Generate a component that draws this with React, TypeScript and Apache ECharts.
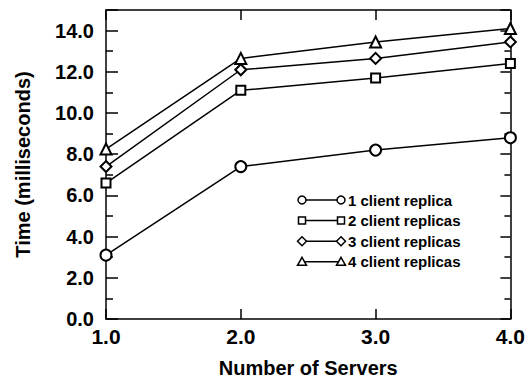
import React, { useEffect, useRef } from "react";
import * as echarts from "echarts";

const servers = [1, 2, 3, 4];
const seriesNames = ["1 client replica", "2 client replicas", "3 client replicas", "4 client replicas"];
const replica1 = [3.1, 7.4, 8.2, 8.8];
const replica2 = [6.6, 11.1, 11.7, 12.4];
const replica3 = [7.4, 12.1, 12.65, 13.45];
const replica4 = [8.25, 12.65, 13.45, 14.1];
const seriesValues = [replica1, replica2, replica3, replica4];
const symbols = ["emptyCircle", "emptyRect", "emptyDiamond", "emptyTriangle"];
const symbolSizes = [11, 9, 11, 11];

const FONT = "'Liberation Sans', Arial, Helvetica, sans-serif";

function legendSymbol(kind: number, cx: number, cy: number) {
  const style = { fill: "#fff", stroke: "#000", lineWidth: 1.5 };
  if (kind === 0) return { type: "circle", shape: { cx, cy, r: 4 }, style, z: 10 };
  if (kind === 1) return { type: "rect", shape: { x: cx - 3.5, y: cy - 3.5, width: 7, height: 7 }, style, z: 10 };
  if (kind === 2)
    return {
      type: "polygon",
      shape: { points: [[cx, cy - 4.5], [cx + 4.5, cy], [cx, cy + 4.5], [cx - 4.5, cy]] },
      style,
      z: 10,
    };
  return {
    type: "polygon",
    shape: { points: [[cx, cy - 4.5], [cx + 4.5, cy + 3.5], [cx - 4.5, cy + 3.5]] },
    style,
    z: 10,
  };
}

export default function App() {
  const ref = useRef<HTMLDivElement>(null);
  useEffect(() => {
    if (!ref.current) return;
    const chart = echarts.init(ref.current, undefined, { renderer: "svg" });
    const axisLine = { show: true, onZero: false, lineStyle: { color: "#000", width: 1.5 } };
    const tickStyle = { color: "#000", width: 1.5 };
    const legendItems: any[] = [];
    seriesNames.forEach((name, i) => {
      const cy = 200 + i * 20.6;
      legendItems.push({ type: "line", shape: { x1: 302, y1: cy, x2: 341, y2: cy }, style: { stroke: "#000", lineWidth: 1.5 }, z: 9 });
      legendItems.push(legendSymbol(i, 302, cy));
      legendItems.push(legendSymbol(i, 341, cy));
      legendItems.push({
        type: "text",
        x: 348,
        y: cy,
        style: { text: name, font: `bold 15px ${FONT}`, fill: "#000", verticalAlign: "middle", align: "left" },
        z: 10,
      });
    });
    chart.setOption({
      animation: false,
      backgroundColor: "#fff",
      grid: { left: 106, right: 15, top: 10, bottom: 59, containLabel: false },
      xAxis: [
        {
          type: "value",
          min: 1,
          max: 4,
          interval: 1,
          position: "bottom",
          axisLine,
          axisTick: { show: true, inside: true, length: 10, lineStyle: tickStyle },
          axisLabel: {
            formatter: (v: number) => v.toFixed(1),
            fontSize: 21,
            fontWeight: "bold",
            fontFamily: FONT,
            color: "#000",
            margin: 7,
          },
          splitLine: { show: false },
          name: "Number of Servers",
          nameLocation: "middle",
          nameGap: 39,
          nameTextStyle: { fontSize: 20, fontWeight: "bold", fontFamily: FONT, color: "#000" },
        },
        {
          type: "value",
          min: 1,
          max: 4,
          interval: 1,
          position: "top",
          axisLine,
          axisTick: { show: true, inside: true, length: 10, lineStyle: tickStyle },
          axisLabel: { show: false },
          splitLine: { show: false },
        },
      ],
      yAxis: [
        {
          type: "value",
          min: 0,
          max: 15,
          interval: 2,
          position: "left",
          axisLine,
          axisTick: { show: true, inside: true, length: 12, lineStyle: tickStyle },
          minorTick: { show: true, splitNumber: 2, length: 7, lineStyle: tickStyle },
          axisLabel: {
            formatter: (v: number) => v.toFixed(1),
            fontSize: 20,
            fontWeight: "bold",
            fontFamily: FONT,
            color: "#000",
            margin: 12,
            showMaxLabel: false,
          },
          splitLine: { show: false },
          name: "Time (milliseconds)",
          nameLocation: "middle",
          nameGap: 73,
          nameTextStyle: { fontSize: 20, fontWeight: "bold", fontFamily: FONT, color: "#000" },
        },
        {
          type: "value",
          min: 0,
          max: 15,
          interval: 2,
          position: "right",
          axisLine,
          axisTick: { show: true, inside: true, length: 10, lineStyle: tickStyle },
          minorTick: { show: true, splitNumber: 2, length: 6, lineStyle: tickStyle },
          axisLabel: { show: false },
          splitLine: { show: false },
        },
      ],
      series: seriesValues.map((vals, i) => ({
        name: seriesNames[i],
        type: "line",
        xAxisIndex: 0,
        yAxisIndex: 0,
        data: servers.map((s, j) => [s, vals[j]]),
        symbol: symbols[i],
        symbolSize: symbolSizes[i],
        showAllSymbol: true,
        lineStyle: { color: "#000", width: 1.5 },
        itemStyle: { color: "#000", borderColor: "#000", borderWidth: 1.5 },
        clip: false,
      })),
      graphic: legendItems,
    });
    return () => chart.dispose();
  }, []);
  return <div ref={ref} style={{ position: "absolute", left: 0, top: 0, width: 528, height: 383 }} />;
}
